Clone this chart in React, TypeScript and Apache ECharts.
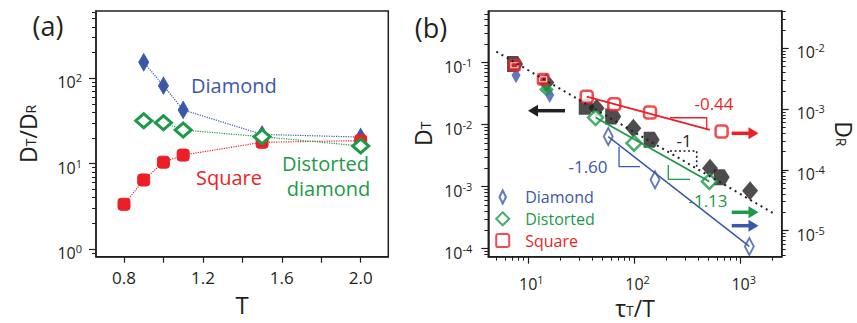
import React, { useEffect, useRef } from 'react';
import * as echarts from 'echarts';

const FONT = '"Open Sans", "Noto Sans", sans-serif';
const INK = '#231f20';
const BLUE = '#3b58a8';
const GREEN = '#1c9a46';
const RED = '#ec1f27';

// ---------- panel (a): D_T/D_R versus T ----------
const T_DIAMOND = [0.9, 1.0, 1.1, 1.5, 2.0];
const RATIO_DIAMOND = [154, 82, 42.6, 22, 20.5];
const T_DISTORTED = [0.9, 1.0, 1.1, 1.5, 2.0];
const RATIO_DISTORTED = [31.8, 30.2, 24.8, 20.7, 16.1];
const T_SQUARE = [0.8, 0.9, 1.0, 1.1, 1.5, 2.0];
const RATIO_SQUARE = [3.34, 6.44, 10.4, 12.6, 17.8, 18.6];

const A_X_LABELS = [0.8, 1.2, 1.6, 2.0];
const A_X_TICKS = [0.8, 1.0, 1.2, 1.4, 1.6, 1.8, 2.0];
const A_Y_MAJOR = [1, 10, 100];

// ---------- panel (b): D_T (left) and D_R (right) versus tau_T/T ----------
const TAU_BLACK_PENT = [7.5, 35.5, 63, 145, 662];
const DT_BLACK_PENT = [0.095, 0.0195, 0.0135, 0.0057, 0.00142];
const TAU_BLACK_DIAM = [14.8, 44, 97.5, 514, 1225];
const DT_BLACK_DIAM = [0.048, 0.0184, 0.00875, 0.00198, 0.00086];

const TAU_DT_BLUE = [7.66, 15.9];
const DT_BLUE = [0.063, 0.03];
const TAU_DT_GREEN = [14.8];
const DT_GREEN = [0.037];
const TAU_DT_RED = [7.4, 13.8];
const DT_RED = [0.091, 0.054];

const TAU_DR_SQUARE = [35.5, 64.5, 140, 661];
const DR_SQUARE = [0.0016, 0.0012, 0.00088, 0.000427];
const TAU_DR_DISTORTED = [43, 98.9, 506];
const DR_DISTORTED = [0.000724, 0.000275, 0.0000645];
const TAU_DR_DIAMOND = [56.6, 156, 1205];
const DR_DIAMOND = [0.000353, 0.0000687, 0.0000055];

// fitted power laws (end points)
const FIT_BLACK_TAU = [5, 2000];
const FIT_BLACK_DT = [0.151, 0.000378];
const FIT_SQUARE_TAU = [35.5, 512];
const FIT_SQUARE_DR = [0.0016, 0.000454];
const FIT_DISTORTED_TAU = [43, 506];
const FIT_DISTORTED_DR = [0.000724, 0.0000645];
const FIT_DIAMOND_TAU = [56.6, 1205];
const FIT_DIAMOND_DR = [0.000353, 0.0000055];

// slope triangles
const TRI_BLACK_TAU = [216, 385, 385];
const TRI_BLACK_DT = [0.00377, 0.00377, 0.00193];
const TRI_SQUARE_TAU = [216, 479, 479];
const TRI_SQUARE_DR = [0.00072, 0.00072, 0.00047];
const TRI_DISTORTED_TAU = [208, 208, 333];
const TRI_DISTORTED_DR = [0.00012, 0.00007, 0.00007];
const TRI_DIAMOND_TAU = [71.5, 71.5, 112.7];
const TRI_DIAMOND_DR = [0.000241, 0.000113, 0.000113];

const SLOPE_LABELS = ['-0.44', '-1', '-1.60', '-1.13'];
const LEGEND_NAMES = ['Diamond', 'Distorted', 'Square'];
const A_LABELS = ['Diamond', 'Square', 'Distorted', 'diamond'];

const B_X_MAJOR = [10, 100, 1000];
const B_L_MAJOR = [1e-4, 1e-3, 1e-2, 1e-1];
const B_R_MAJOR = [1e-5, 1e-4, 1e-3, 1e-2];

// log minor tick positions (2..9 times each decade) inside [lo, hi]
function minorTicks(lo: number, hi: number): number[] {
  const out: number[] = [];
  for (let e = Math.floor(Math.log10(lo)); e <= Math.ceil(Math.log10(hi)); e++) {
    for (let m = 2; m <= 9; m++) {
      const v = parseFloat((m * Math.pow(10, e)).toPrecision(6));
      if (v >= lo && v <= hi) out.push(v);
    }
  }
  return out;
}

const zip = (xs: number[], ys: number[]) => xs.map((x, i) => [x, ys[i]]);

const supFormatter = (v: number) => `{m|10}{s|${Math.round(Math.log10(v))}}`;

const richLabel = (padLeft: number) => ({
  m: { fontSize: 16, lineHeight: 20, padding: [8, 0, 0, padLeft], fontFamily: FONT, color: INK },
  s: { fontSize: 11, lineHeight: 11, padding: [4, 0, 0, 0], verticalAlign: 'top', fontFamily: FONT, color: INK },
});

const nameRich = {
  m: { fontSize: 23, lineHeight: 23, padding: [0, 0, 4, 0], verticalAlign: 'top', fontFamily: FONT, color: INK },
  sub: { fontSize: 14, lineHeight: 14, padding: [0, 0, 2, 0], verticalAlign: 'bottom', fontFamily: FONT, color: INK },
};
const nameStyle = { fontSize: 23, lineHeight: 27, fontFamily: FONT, color: INK, rich: nameRich };

const AX = { color: INK, width: 1.5 };

function majorLog(gridIndex: number, position: string, min: number, max: number, values: number[], margin: number, padLeft: number, extra: any = {}) {
  return {
    type: 'log', logBase: 10, gridIndex, position, min, max,
    axisLine: { show: true, onZero: false, lineStyle: AX },
    axisTick: { show: true, customValues: values, length: 7, lineStyle: { color: INK, width: 1.2 } },
    axisLabel: { show: true, customValues: values, formatter: supFormatter, margin, rich: richLabel(padLeft) },
    splitLine: { show: false },
    ...extra,
  };
}
function minorLog(gridIndex: number, position: string, min: number, max: number) {
  return {
    type: 'log', logBase: 10, gridIndex, position, min, max,
    axisLine: { show: false, onZero: false },
    axisTick: { show: true, customValues: minorTicks(min, max), length: 4, lineStyle: { color: INK, width: 1 } },
    axisLabel: { show: false },
    splitLine: { show: false },
  };
}

const A_XMIN = 0.658, A_XMAX = 2.14;
const A_YMIN = 0.813, A_YMAX = 614;
const B_XMIN = 4.2, B_XMAX = 2432;
const B_LMIN = 7.43e-5, B_LMAX = 0.682;
const B_RMIN = 3.73e-6, B_RMAX = 0.041;

function scatter(name: string, x: number, y: number, xs: number[], ys: number[], symbol: string, size: any, itemStyle: any) {
  return {
    type: 'scatter', name, xAxisIndex: x, yAxisIndex: y, data: zip(xs, ys), symbol, symbolSize: size,
    itemStyle, silent: true, emphasis: { disabled: true },
  };
}
function line(name: string, x: number, y: number, xs: number[], ys: number[], lineStyle: any) {
  return {
    type: 'line', name, xAxisIndex: x, yAxisIndex: y, data: zip(xs, ys), symbol: 'none',
    lineStyle, silent: true, emphasis: { disabled: true },
  };
}
function connected(name: string, xs: number[], ys: number[], color: string, symbol: string, size: any, itemStyle: any) {
  return {
    type: 'line', name, xAxisIndex: 0, yAxisIndex: 0, data: zip(xs, ys), symbol, symbolSize: size,
    showSymbol: true, showAllSymbol: true, itemStyle,
    lineStyle: { color, width: 1.2, type: 'dotted' }, silent: true, emphasis: { disabled: true },
  };
}

function txt(text: string, x: number, y: number, color: string, size: number, align = 'center') {
  return {
    type: 'text', x, y, silent: true, z: 10,
    style: { text, fill: color, fontSize: size, fontFamily: FONT, align, verticalAlign: 'middle', textAlign: align, textVerticalAlign: 'middle' },
  };
}
function arrow(x1: number, x2: number, y: number, color: string, left: boolean) {
  const head = left
    ? [[x1, y], [x1 + 10, y - 6], [x1 + 10, y + 6]]
    : [[x2, y], [x2 - 10, y - 6], [x2 - 10, y + 6]];
  return [
    { type: 'line', silent: true, z: 10, shape: left ? { x1: x1 + 8, y1: y, x2: x2, y2: y } : { x1, y1: y, x2: x2 - 8, y2: y }, style: { stroke: color, lineWidth: 3.5 } },
    { type: 'polygon', silent: true, z: 10, shape: { points: head }, style: { fill: color } },
  ];
}

const PENT = 'path://M0,0L11,0L16,8L11,16L0,16Z';
const NARROW_DIAMOND = 'path://M4,0L8,8L4,16L0,8Z';
const WIDE_DIAMOND = 'path://M6,0L12,6L6,12L0,6Z';
const ROUND_SQUARE = 'path://M2,0L10,0Q12,0 12,2L12,10Q12,12 10,12L2,12Q0,12 0,10L0,2Q0,0 2,0Z';

const option: any = {
  animation: false,
  backgroundColor: '#fff',
  textStyle: { fontFamily: FONT, color: INK },
  grid: [
    { left: 96, top: 11, width: 292.3, height: 245.7, show: true, borderColor: INK, borderWidth: 1.5, backgroundColor: 'transparent', outerBoundsMode: 'none', containLabel: false },
    { left: 488.3, top: 11, width: 293.4, height: 245.7, show: true, borderColor: INK, borderWidth: 1.5, backgroundColor: 'transparent', outerBoundsMode: 'none', containLabel: false },
  ],
  xAxis: [
    {
      type: 'value', gridIndex: 0, position: 'bottom', min: A_XMIN, max: A_XMAX,
      axisLine: { show: true, onZero: false, lineStyle: AX },
      axisTick: { show: true, customValues: A_X_TICKS, length: 6, lineStyle: { color: INK, width: 1.2 } },
      axisLabel: { show: true, customValues: A_X_LABELS, formatter: (v: number) => v.toFixed(1), margin: 11, fontSize: 17, lineHeight: 20, fontFamily: FONT, color: INK },
      splitLine: { show: false },
      name: 'T', nameLocation: 'middle', nameGap: 35, nameTextStyle: { fontSize: 24, lineHeight: 24, fontFamily: FONT, color: INK },
    },
    majorLog(1, 'bottom', B_XMIN, B_XMAX, B_X_MAJOR, 13, 6, {
      name: '{m|\u03c4}{sub|T}{m|/T}', nameLocation: 'middle', nameGap: 32, nameTextStyle: nameStyle,
    }),
    minorLog(1, 'bottom', B_XMIN, B_XMAX),
  ],
  yAxis: [
    majorLog(0, 'left', A_YMIN, A_YMAX, A_Y_MAJOR, 14, 0, {
      name: '{m|D}{sub|T}{m|/D}{sub|R}', nameLocation: 'middle', nameGap: 57, nameTextStyle: nameStyle,
    }),
    minorLog(0, 'left', A_YMIN, A_YMAX),
    majorLog(1, 'left', B_LMIN, B_LMAX, B_L_MAJOR, 16, 0, {
      name: '{m|D}{sub|T}', nameLocation: 'middle', nameGap: 54, nameTextStyle: nameStyle,
    }),
    minorLog(1, 'left', B_LMIN, B_LMAX),
    majorLog(1, 'right', B_RMIN, B_RMAX, B_R_MAJOR, 15, 0, {
      name: '{m|D}{sub|R}', nameLocation: 'middle', nameGap: 39, nameRotate: -90, nameTextStyle: nameStyle,
    }),
    minorLog(1, 'right', B_RMIN, B_RMAX),
  ],
  legend: {
    show: true, orient: 'vertical', left: 495.2, top: 189, padding: 0,
    itemWidth: 13, itemHeight: 13, itemGap: 5.8,
    symbolKeepAspect: true,
    selectedMode: false,
    textStyle: { fontSize: 16, fontFamily: FONT, padding: [0, 0, 0, 11] },
    data: [
      { name: LEGEND_NAMES[0], icon: NARROW_DIAMOND, textStyle: { color: BLUE } },
      { name: LEGEND_NAMES[1], icon: WIDE_DIAMOND, textStyle: { color: GREEN } },
      { name: LEGEND_NAMES[2], icon: ROUND_SQUARE, textStyle: { color: RED } },
    ],
  },
  series: [
    // ---- panel (a)
    connected('a-diamond', T_DIAMOND, RATIO_DIAMOND, BLUE, 'diamond', [10, 17], { color: BLUE, borderColor: BLUE, borderWidth: 1 }),
    scatter('a-diamond-core', 0, 0, T_DIAMOND, RATIO_DIAMOND, 'diamond', [4, 8], { color: 'transparent', borderColor: '#ffffff', borderWidth: 0.8 }),
    connected('a-square', T_SQUARE, RATIO_SQUARE, RED, 'roundRect', [12, 12], { color: RED, borderColor: RED, borderWidth: 1 }),
    scatter('a-square-core', 0, 0, T_SQUARE, RATIO_SQUARE, 'rect', [7, 5], { color: 'transparent', borderColor: '#ffffff', borderWidth: 1 }),
    connected('a-distorted', T_DISTORTED, RATIO_DISTORTED, GREEN, 'diamond', [16, 14], { color: '#ffffff', borderColor: GREEN, borderWidth: 3 }),

    // ---- panel (b): black D_T data and slope -1
    line('b-fit-black', 1, 2, FIT_BLACK_TAU, FIT_BLACK_DT, { color: INK, width: 2, type: [2, 4] }),
    line('b-tri-black', 1, 2, TRI_BLACK_TAU, TRI_BLACK_DT, { color: INK, width: 1.6, type: [2, 2.5] }),
    scatter('b-black-pent', 1, 2, TAU_BLACK_PENT, DT_BLACK_PENT, PENT, [16, 16], { color: INK }),
    scatter('b-black-diam', 1, 2, TAU_BLACK_DIAM, DT_BLACK_DIAM, 'diamond', [16, 19], { color: INK }),

    // fits on D_R
    line('b-fit-diamond', 1, 4, FIT_DIAMOND_TAU, FIT_DIAMOND_DR, { color: BLUE, width: 1.5 }),
    line('b-fit-distorted', 1, 4, FIT_DISTORTED_TAU, FIT_DISTORTED_DR, { color: GREEN, width: 1.8 }),
    line('b-fit-square', 1, 4, FIT_SQUARE_TAU, FIT_SQUARE_DR, { color: RED, width: 1.8 }),
    line('b-tri-diamond', 1, 4, TRI_DIAMOND_TAU, TRI_DIAMOND_DR, { color: BLUE, width: 1.3 }),
    line('b-tri-distorted', 1, 4, TRI_DISTORTED_TAU, TRI_DISTORTED_DR, { color: GREEN, width: 1.3 }),
    line('b-tri-square', 1, 4, TRI_SQUARE_TAU, TRI_SQUARE_DR, { color: RED, width: 1.3 }),

    // hollow D_R points (legend)
    scatter(LEGEND_NAMES[0], 1, 4, TAU_DR_DIAMOND, DR_DIAMOND, 'diamond', [9, 17], { color: '#ffffff', borderColor: BLUE, borderWidth: 2 }),
    scatter(LEGEND_NAMES[1], 1, 4, TAU_DR_DISTORTED, DR_DISTORTED, 'diamond', [15, 15], { color: '#ffffff', borderColor: GREEN, borderWidth: 2.5 }),
    scatter(LEGEND_NAMES[2], 1, 4, TAU_DR_SQUARE, DR_SQUARE, 'roundRect', [12, 12], { color: '#ffffff', borderColor: RED, borderWidth: 2.5 }),

    // filled D_T points at short times
    scatter('b-dt-blue', 1, 2, TAU_DT_BLUE, DT_BLUE, 'diamond', [9, 16], { color: BLUE }),
    scatter('b-dt-green', 1, 2, TAU_DT_GREEN, DT_GREEN, 'diamond', [15, 14], { color: GREEN }),
    scatter('b-dt-red', 1, 2, TAU_DT_RED, DT_RED, 'roundRect', [13, 13], { color: RED }),
    scatter('b-dt-red-core', 1, 2, TAU_DT_RED, DT_RED, 'rect', [7, 5], { color: 'transparent', borderColor: '#ffffff', borderWidth: 1 }),
  ],
  graphic: [
    txt('(a)', 48, 25, INK, 27),
    txt('(b)', 431, 27, INK, 27),
    txt(A_LABELS[0], 191, 85, BLUE, 20, 'left'),
    txt(A_LABELS[1], 196, 177, RED, 20, 'left'),
    txt(A_LABELS[2], 325.5, 163, GREEN, 20),
    txt(A_LABELS[3], 328.5, 188, GREEN, 20),
    txt(SLOPE_LABELS[0], 714, 103, RED, 17),
    txt(SLOPE_LABELS[1], 684, 140, INK, 17),
    txt(SLOPE_LABELS[2], 588, 166, BLUE, 17),
    txt(SLOPE_LABELS[3], 708, 200, GREEN, 17),
    ...arrow(528, 565, 110.7, INK, true),
    ...arrow(731.7, 758.5, 133.3, RED, false),
    ...arrow(731.7, 758.5, 212.3, GREEN, false),
    ...arrow(731.7, 758.5, 225.7, BLUE, false),
  ],
};

export default function App() {
  const ref = useRef<HTMLDivElement>(null);
  useEffect(() => {
    const chart = echarts.init(ref.current as HTMLDivElement, null, { renderer: 'svg' });
    chart.setOption(option);
    return () => chart.dispose();
  }, []);
  return (
    <div
      ref={ref}
      style={{ position: 'fixed', left: 0, top: 0, width: 857, height: 323, background: '#fff' }}
    />
  );
}
